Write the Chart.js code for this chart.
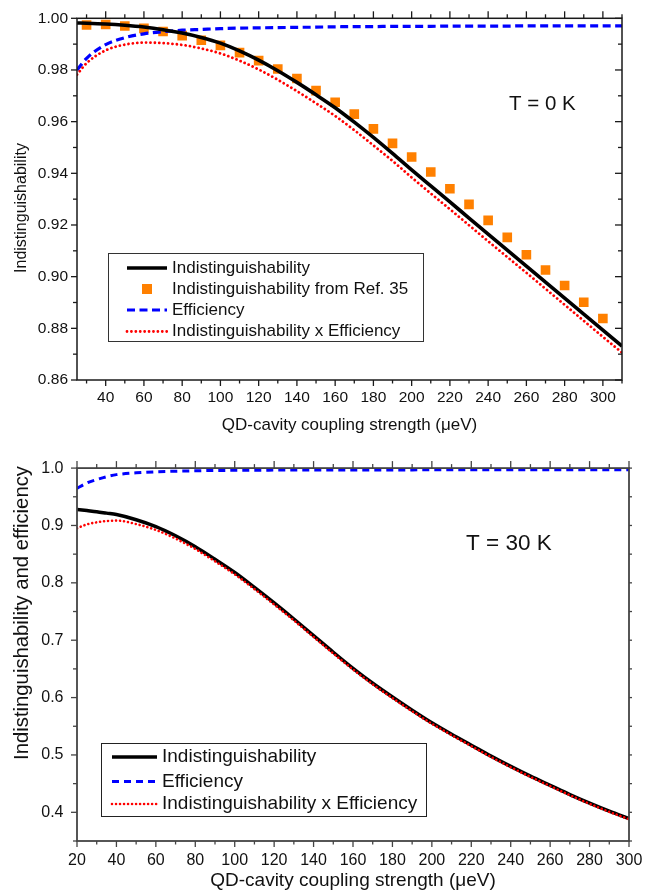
<!DOCTYPE html>
<html><head><meta charset="utf-8">
<script src="https://cdn.jsdelivr.net/npm/chart.js@4/dist/chart.umd.min.js"></script>
<style>
html,body{margin:0;padding:0;background:#fff;}
#wrap{position:relative;width:665px;height:894px;overflow:hidden;}
canvas{position:absolute;left:0;}
</style></head><body>
<div id="wrap">
<canvas id="c1" width="665" height="445" style="top:0"></canvas>
<canvas id="c2" width="665" height="449" style="top:445px"></canvas>
</div>
<script>
// ---------- data: top panel (T = 0 K) ----------
const topX = [25,30,40,50,60,70,80,90,100,110,120,130,140,150,160,170,180,190,200,210,220,230,240,250,260,270,280,290,300,310];
const topIndist = [.9982,.9981,.9978,.9973,.9966,.9956,.9943,.9926,.9904,.9874,.9838,.9797,.9752,.9704,.9654,.9598,.9539,.9477,.9413,.9351,.9289,.9227,.9165,.9103,.9041,.8979,.8917,.8855,.8793,.8731];
const topEff = [.9800,.9845,.9898,.9925,.9940,.9948,.9954,.9957,.9960,.9962,.9963,.9964,.9965,.9966,.9967,.9968,.9968,.9969,.9969,.9969,.9970,.9970,.9970,.9970,.9971,.9971,.9971,.9971,.9971,.9971];
const topProduct = [.9782,.9826,.9876,.9898,.9906,.9904,.9897,.9883,.9864,.9836,.9802,.9762,.9718,.9671,.9622,.9567,.9508,.9448,.9384,.9322,.9261,.9199,.9137,.9076,.9015,.8953,.8891,.8829,.8767,.8706];
const refX = [30,40,50,60,70,80,90,100,110,120,130,140,150,160,170,180,190,200,210,220,230,240,250,260,270,280,290,300];
const refIndist = [.9974,.9976,.9970,.9961,.9949,.9933,.9915,.9895,.9867,.9836,.9804,.9767,.9720,.9675,.9629,.9572,.9516,.9463,.9405,.9340,.9280,.9218,.9152,.9085,.9026,.8966,.8901,.8838];
const topXTicks = [40,60,80,100,120,140,160,180,200,220,240,260,280,300];
const topXMinor = [30,50,70,90,110,130,150,170,190,210,230,250,270,290,310];
const topYTicks = [0.86,0.88,0.90,0.92,0.94,0.96,0.98,1.00];
const topYMinor = [0.87,0.89,0.91,0.93,0.95,0.97,0.99];

// ---------- data: bottom panel (T = 30 K) ----------
const botX = [20,25,30,35,40,50,60,70,80,90,100,110,120,130,140,150,160,170,180,190,200,210,220,230,240,250,260,270,280,290,300];
const botIndist = [.928,.926,.924,.9215,.919,.910,.898,.882,.863,.841,.818,.792,.765,.737,.708,.679,.651,.625,.601,.578,.556,.536,.517,.498,.480,.463,.447,.431,.416,.402,.389];
const botEff = [.9646,.974,.980,.985,.9886,.9918,.9935,.9946,.9953,.9958,.9961,.9963,.9965,.9966,.9967,.9968,.9968,.9969,.9969,.9969,.9970,.9970,.9970,.9970,.9971,.9971,.9971,.9971,.9971,.9971,.9971];
const botProduct = [.8951,.9019,.9055,.9077,.9085,.9025,.8922,.8772,.8589,.8375,.8148,.7891,.7623,.7345,.7057,.6768,.6489,.6231,.5991,.5762,.5543,.5344,.5154,.4965,.4786,.4617,.4457,.4298,.4148,.4008,.3879];
const botXTicks = [20,40,60,80,100,120,140,160,180,200,220,240,260,280,300];
const botXMinor = [30,50,70,90,110,130,150,170,190,210,230,250,270,290];
const botYTicks = [0.4,0.5,0.6,0.7,0.8,0.9,1.0];
const botYMinor = [0.35,0.45,0.55,0.65,0.75,0.85,0.95];

const FONT = '"Liberation Sans", Arial, Helvetica, sans-serif';
Chart.defaults.font.family = FONT;
Chart.defaults.color = '#111';

const pts = (xs, ys) => xs.map((x, i) => ({x: x, y: ys[i]}));

const originPlugin = {
  id: 'origin',
  afterDraw(chart, args, o) {
    const ctx = chart.ctx, ca = chart.chartArea, xs = chart.scales.x, ys = chart.scales.y;
    ctx.save();
    const seg = (x1, y1, x2, y2) => { ctx.beginPath(); ctx.moveTo(x1, y1); ctx.lineTo(x2, y2); ctx.stroke(); };
    ctx.strokeStyle = o.axisColor; ctx.lineWidth = o.axisWidth; ctx.setLineDash([]);
    ctx.strokeRect(ca.left, ca.top, ca.right - ca.left, ca.bottom - ca.top);
    ctx.lineWidth = o.tickWidth;
    const T = o.tickLen;
    const xTicks = (vals, k) => vals.forEach(v => { const p = xs.getPixelForValue(v);
      seg(p, ca.bottom, p, ca.bottom + T.bottom[k]); seg(p, ca.top, p, ca.top - T.top[k]); });
    const yTicks = (vals, k) => vals.forEach(v => { const p = ys.getPixelForValue(v);
      seg(ca.left, p, ca.left - T.left[k], p); seg(ca.right, p, ca.right + T.right[k], p); });
    xTicks(o.xMajor, 0); xTicks(o.xMinor, 1); yTicks(o.yMajor, 0); yTicks(o.yMinor, 1);

    // legend
    const L = o.legend;
    ctx.fillStyle = '#fff'; ctx.fillRect(L.x, L.y, L.w, L.h);
    ctx.strokeStyle = L.border; ctx.lineWidth = 1; ctx.strokeRect(L.x + 0.5, L.y + 0.5, L.w, L.h);
    ctx.font = L.font + 'px ' + FONT; ctx.textBaseline = 'middle'; ctx.textAlign = 'left';
    L.items.forEach((di, r) => {
      const ds = chart.data.datasets[di]; const yy = L.rows[r];
      if (ds.showLine === false) {
        const s = L.square; ctx.fillStyle = ds.pointBackgroundColor;
        ctx.fillRect((L.s1 + L.s2) / 2 - s / 2, yy - s / 2, s, s);
      } else {
        ctx.strokeStyle = ds.borderColor; ctx.lineWidth = ds.borderWidth;
        ctx.setLineDash(ds.borderDash || []); ctx.lineCap = ds.borderCapStyle || 'butt';
        seg(L.s1, yy, L.s2, yy);
        ctx.setLineDash([]); ctx.lineCap = 'butt';
      }
      ctx.fillStyle = '#111'; ctx.fillText(ds.label, L.tx, yy);
    });

    // annotation
    o.notes.forEach(n => { ctx.font = n.size + 'px ' + FONT; ctx.fillStyle = '#111';
      ctx.textAlign = 'left'; ctx.textBaseline = 'middle'; ctx.fillText(n.text, n.x, n.y); });

    // y title
    const Y = o.yTitle;
    ctx.translate(Y.x, Y.y); ctx.rotate(-Math.PI / 2);
    ctx.font = Y.size + 'px ' + FONT; ctx.fillStyle = '#111';
    ctx.textAlign = 'center'; ctx.textBaseline = 'middle'; ctx.fillText(Y.text, 0, 0);
    ctx.restore();
  }
};

function makeChart(id, cfg) {
  const xTickVals = cfg.xMajor, yTickVals = cfg.yMajor;
  return new Chart(document.getElementById(id), {
    type: 'line',
    data: { datasets: cfg.datasets },
    plugins: [originPlugin],
    options: {
      responsive: false, animation: false, events: [],
      layout: { padding: { left: 0, top: cfg.padTop, right: cfg.padRight, bottom: 0 } },
      elements: { point: { radius: 0 }, line: { cubicInterpolationMode: 'monotone' } },
      plugins: {
        legend: { display: false }, tooltip: { enabled: false },
        origin: cfg.origin
      },
      scales: {
        x: {
          type: 'linear', min: cfg.xMin, max: cfg.xMax,
          grid: { display: false, drawTicks: false }, border: { display: false },
          afterBuildTicks: s => { s.ticks = xTickVals.map(v => ({ value: v })); },
          afterFit: s => { s.height = cfg.xHeight; },
          ticks: { padding: cfg.xPad, font: { size: cfg.tickSize }, color: '#111', maxRotation: 0, autoSkip: false },
          title: { display: true, text: 'QD-cavity coupling strength (μeV)', color: '#111',
                   font: { size: cfg.xTitleSize }, padding: { top: 0, bottom: cfg.xTitlePad } }
        },
        y: {
          type: 'linear', min: cfg.yMin, max: cfg.yMax,
          grid: { display: false, drawTicks: false }, border: { display: false },
          afterBuildTicks: s => { s.ticks = yTickVals.map(v => ({ value: v })); },
          afterFit: s => { s.width = 77; },
          ticks: { padding: cfg.yPad, font: { size: cfg.tickSize }, color: '#111', autoSkip: false,
                   callback: v => Number(v).toFixed(cfg.yDec) }
        }
      }
    }
  });
}

makeChart('c1', {
  padTop: 8, padRight: 43, xHeight: 65, xMin: 25, xMax: 310, yMin: 0.86, yMax: 1.0,
  xMajor: topXTicks, yMajor: topYTicks, tickSize: 15.5, xPad: 8.5, yPad: 9, yDec: 2,
  xTitleSize: 17, xTitlePad: 9.5,
  datasets: [
    { label: 'Indistinguishability', data: pts(topX, topIndist), borderColor: '#000', borderWidth: 3.6, order: 1 },
    { label: 'Indistinguishability from Ref. 35', data: pts(refX, refIndist), showLine: false,
      pointStyle: 'rect', pointRadius: 6.8, pointBorderWidth: 0, pointBackgroundColor: '#ff8000',
      backgroundColor: '#ff8000', borderColor: '#ff8000', order: 3 },
    { label: 'Efficiency', data: pts(topX, topEff), borderColor: '#0000ff', borderWidth: 3.2, borderDash: [8, 4.5], order: 2 },
    { label: 'Indistinguishability x Efficiency', data: pts(topX, topProduct), borderColor: '#ff0000', borderWidth: 2.8,
      borderDash: [0.01, 4.4], borderCapStyle: 'round', order: 0 }
  ],
  origin: {
    axisColor: '#1a1a1a', axisWidth: 1.5, tickWidth: 1.3,
    xMajor: topXTicks, xMinor: topXMinor, yMajor: topYTicks, yMinor: topYMinor,
    tickLen: { bottom: [6, 3.5], top: [7, 4], left: [6, 4], right: [-7, -4] },
    legend: { x: 108, y: 253, w: 315, h: 88, rows: [268, 289, 310, 331.5], s1: 127, s2: 167, tx: 172,
              font: 17, square: 10, border: '#333', items: [0, 1, 2, 3] },
    notes: [{ text: 'T = 0 K', x: 509, y: 104, size: 20.5 }],
    yTitle: { text: 'Indistinguishability', x: 22, y: 208, size: 16 }
  }
});

makeChart('c2', {
  padTop: 15, padRight: 36, xHeight: 53, xMin: 20, xMax: 300, yMin: 0.35, yMax: 1.0,
  xMajor: botXTicks, yMajor: botYTicks, tickSize: 16, xPad: 10, yPad: 13.5, yDec: 1,
  xTitleSize: 19, xTitlePad: 2,
  datasets: [
    { label: 'Indistinguishability', data: pts(botX, botIndist), borderColor: '#000', borderWidth: 3.5, order: 1 },
    { label: 'Efficiency', data: pts(botX, botEff), borderColor: '#0000ff', borderWidth: 3, borderDash: [7, 5], order: 2 },
    { label: 'Indistinguishability x Efficiency', data: pts(botX, botProduct), borderColor: '#ff0000', borderWidth: 2.6,
      borderDash: [0.01, 4], borderCapStyle: 'round', order: 0 }
  ],
  origin: {
    axisColor: '#444', axisWidth: 1.8, tickWidth: 1.3,
    xMajor: botXTicks, xMinor: botXMinor, yMajor: botYTicks, yMinor: botYMinor,
    tickLen: { bottom: [6, 3.5], top: [7, 4], left: [6, 4], right: [3, 3] },
    legend: { x: 101, y: 298, w: 325, h: 73, rows: [312, 336.5, 359], s1: 112, s2: 157, tx: 162,
              font: 19, square: 10, border: '#222', items: [0, 1, 2] },
    notes: [{ text: 'T = 30 K', x: 466, y: 99, size: 22.5 }],
    yTitle: { text: 'Indistinguishability and efficiency', x: 22, y: 168, size: 20.3 }
  }
});
</script>
</body></html>
